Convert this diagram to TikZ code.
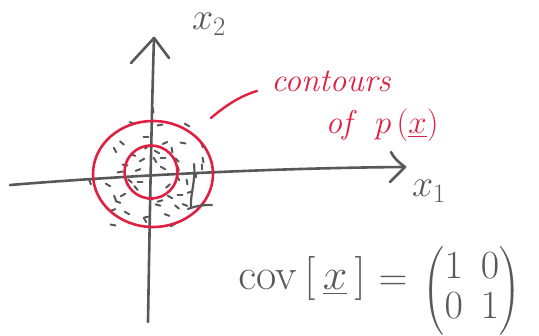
\RequirePackage{fix-cm}
\documentclass[tikz,border=0pt]{standalone}
\usepackage{amsmath}
\usetikzlibrary{shapes.geometric}
\definecolor{pencil}{RGB}{88,88,88}
\definecolor{handred}{RGB}{224,32,66}
\tikzset{
  axisline/.style={draw=pencil,line width=2.6pt,line cap=round,line join=round},
  contour/.style={draw=handred,line width=2.6pt},
  pointer/.style={draw=handred,line width=2.4pt,line cap=round},
  speck/.style={draw=pencil,line width=2pt,line cap=round},
  redtext/.style={text=handred,inner sep=0pt,font=\fontsize{33}{33}\selectfont\itshape},
  blacktext/.style={text=pencil,inner sep=0pt,font=\fontsize{38}{38}\selectfont},
}
\begin{document}
\begin{tikzpicture}[x=1pt,y=-1pt]
\useasboundingbox (0,0) rectangle (539,336);
% axes
\coordinate (ybot) at (148,322);
\coordinate (ytop) at (154,38);
\coordinate (xleft) at (10,185);
\coordinate (xtip) at (405,167);
\draw[axisline] (ybot) .. controls (150,200) and (152,100) .. (ytop);
\draw[axisline] (131,63) -- (ytop) -- (169,58);
\draw[axisline] (xleft) .. controls (120,176) and (270,168) .. (xtip);
\draw[axisline] (391,152) .. controls (395,160) and (400,163) .. (xtip) -- (390,182);
% axis labels
\node[blacktext] (xtwo) at (209,24) {$x_2$};
\node[blacktext] (xone) at (429,191) {$x_1$};
% samples
\foreach \px/\py/\a in {
 132/123/20, 160/125/-10, 187/125/30, 122/143/40, 115/150/60, 165/143/-25,
 183/143/10, 202/145/70, 147/147/-40, 157/152/30, 172/150/80, 133/155/20,
 142/160/-30, 155/160/60, 163/158/0, 177/160/45, 203/160/80, 125/165/10,
 138/170/-20, 163/168/30, 178/168/70, 202/167/90, 130/181/40, 140/182/0,
 178/178/60, 120/172/-10, 187/182/80, 115/198/70, 123/195/-30, 118/202/20,
 150/199/10, 160/201/-15, 170/197/30, 180/195/0, 190/192/-20, 158/205/15,
 177/207/40, 113/210/-20, 127/213/30, 147/217/-10, 167/215/20, 113/225/10,
 145/220/60, 173/225/-30, 153/110/80, 90/182/70, 136/188/50, 168/186/-40,
 196/175/90, 108/185/30, 146/137/0, 185/205/20}
  \draw[speck] (\px,\py) ++(\a:2.5) -- ++(\a+180:5);
% contours
\node[contour,ellipse,minimum width=120pt,minimum height=106pt,inner sep=0pt] (outer) at (153,174) {};
\node[contour,circle,minimum size=53pt,inner sep=0pt] (inner) at (151,172) {};
% radius mark
\draw[axisline,line width=2.2pt] (194,164) .. controls (196,180) and (190,195) .. (191,207);
\draw[axisline,line width=2.2pt] (188,209) .. controls (198,205) and (206,205) .. (212,205);
% pointer and label
\node[redtext] (contours) at (331,81) {contours};
\node[redtext] (ofp) at (382,125) {of\hspace{0.7em}$p\,(\underline{x})$};
\coordinate (pstart) at (211,118);
\coordinate (pend) at (257,91);
\draw[pointer] (pstart) .. controls (225,106) and (240,96) .. (pend);
% covariance
\node[blacktext,font=\fontsize{44}{44}\selectfont,anchor=base] (covlhs) at (302,290)
  {$\mathrm{cov}\,[\,\underline{x}\,]$};
\node[blacktext,font=\fontsize{40}{40}\selectfont] (eq) at (393,283) {$=$};
\node[blacktext,font=\fontsize{40}{40}\selectfont] (covmat) at (472,291)
  {\setlength{\arraycolsep}{9pt}$\left(\begin{matrix}1&0\\0&1\end{matrix}\right)$};
\end{tikzpicture}
\end{document}
